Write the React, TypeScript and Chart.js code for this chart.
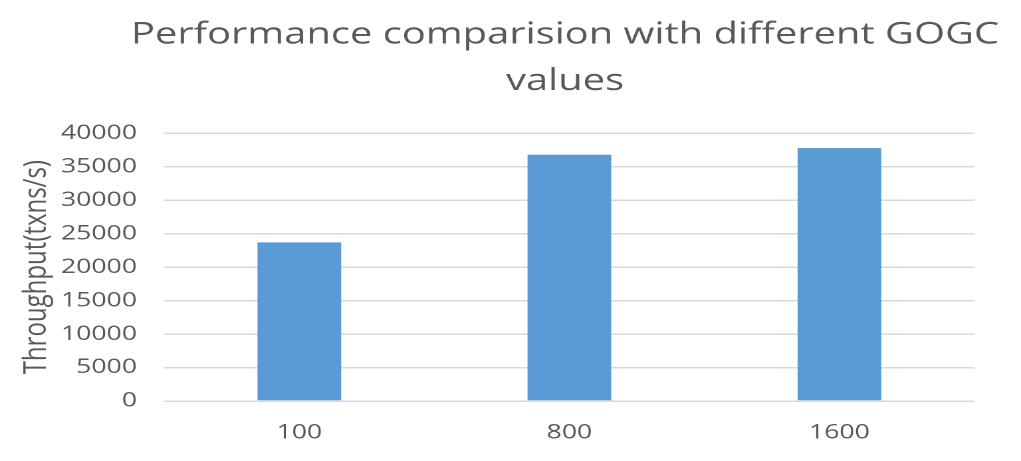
import React, { useEffect, useRef } from 'react';
import { Chart, registerables } from 'chart.js';

Chart.register(...registerables);

const categories = ['100', '800', '1600'];
const throughput = [23700, 36800, 37800];
const yMin = 0;
const yMax = 40000;
const yStep = 5000;
const titleLines = ['Performance comparision with different GOGC', 'values'];
const yAxisTitle = 'Throughput(txns/s)';

const PAGE_W = 1021;
const PAGE_H = 461;
const LOGICAL_W = 768; // drawn narrower, then stretched horizontally like the reference
const TEXT = '#595959';
const FONT = "'Open Sans', 'DejaVu Sans', sans-serif";

// Chart title: the reference centres it a little left of the plot and lets it
// run wider than the plot, so it is drawn by a small plugin.
const TITLE_SIZE = 30;
const TITLE_CENTER_X = 425;
const TITLE_BASELINES = [43.5, 90];

const titlePlugin = {
  id: 'wideTitle',
  afterDraw(chart: any) {
    const ctx = chart.ctx as CanvasRenderingContext2D;
    ctx.save();
    ctx.fillStyle = TEXT;
    ctx.font = `normal ${TITLE_SIZE}px ${FONT}`;
    ctx.textAlign = 'center';
    ctx.textBaseline = 'alphabetic';
    titleLines.forEach((line, i) => ctx.fillText(line, TITLE_CENTER_X, TITLE_BASELINES[i]));
    ctx.restore();
  },
};

export default function App() {
  const ref = useRef<HTMLCanvasElement>(null);

  useEffect(() => {
    const canvas = ref.current!;
    const chart = new Chart(canvas, {
      type: 'bar',
      data: {
        labels: categories,
        datasets: [
          {
            data: throughput,
            backgroundColor: '#5B9BD5',
            borderWidth: 0,
            barPercentage: 0.31,
            categoryPercentage: 1,
          },
        ],
      },
      options: {
        responsive: false,
        animation: false,
        devicePixelRatio: 2,
        layout: { padding: { left: 10.5, right: 35, top: 133.3, bottom: 16 } },
        plugins: {
          legend: { display: false },
          tooltip: { enabled: false },
          title: { display: false },
        },
        scales: {
          x: {
            afterFit: (scale: any) => {
              scale.height = 44;
            },
            grid: { display: false, drawTicks: false },
            border: { display: false },
            ticks: { color: TEXT, font: { family: FONT, size: 20 }, padding: 20 },
          },
          y: {
            min: yMin,
            max: yMax,
            afterFit: (scale: any) => {
              scale.width = 113.1;
            },
            grid: { color: '#D9D9D9', lineWidth: 1.5, drawTicks: false },
            border: { display: false },
            ticks: {
              stepSize: yStep,
              color: TEXT,
              font: { family: FONT, size: 20 },
              padding: 20.6,
              callback: (v: any) => String(v),
            },
            title: {
              display: true,
              text: yAxisTitle,
              color: TEXT,
              font: { family: FONT, size: 24, lineHeight: 1.2 },
              padding: { top: 3, bottom: 4 },
            },
          },
        },
      },
      plugins: [titlePlugin],
    });
    return () => chart.destroy();
  }, []);

  return (
    <div
      style={{
        position: 'fixed',
        left: 0,
        top: 0,
        width: PAGE_W,
        height: PAGE_H,
        background: '#ffffff',
      }}
    >
      <canvas
        ref={ref}
        width={LOGICAL_W}
        height={PAGE_H}
        style={{ width: PAGE_W + 'px', height: PAGE_H + 'px', display: 'block' }}
      />
    </div>
  );
}
